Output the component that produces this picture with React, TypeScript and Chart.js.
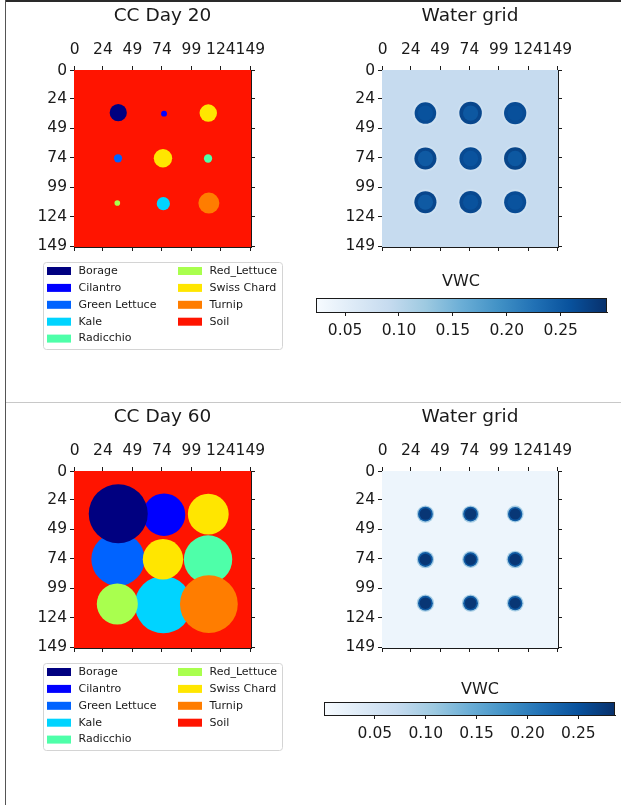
import { useEffect, useRef } from 'react';
import { Chart, registerables } from 'chart.js';

Chart.register(...registerables);

// ---------------- data ----------------
const cropNames = ['Borage', 'Cilantro', 'Green Lettuce', 'Kale', 'Radicchio', 'Red_Lettuce', 'Swiss Chard', 'Turnip', 'Soil'];
const cropColors = ['#000080', '#0000ff', '#0063ff', '#00d4ff', '#4effa9', '#a9ff4e', '#ffe600', '#ff7d00', '#ff1400'];
const axisTicks = [0, 24, 49, 74, 99, 124, 149];
const gridRange = [-0.5, 149.5];

// plants, in drawing order (later ones lie on top)
const plantCrop = ['Green Lettuce', 'Cilantro', 'Kale', 'Radicchio', 'Red_Lettuce', 'Swiss Chard', 'Swiss Chard', 'Borage', 'Turnip'];
const plantX = [36.8, 75.8, 75.2, 113.1, 36.2, 74.9, 113.3, 37.0, 113.8];
const plantY = [74.3, 36.5, 112.8, 74.5, 112.2, 74.3, 36.0, 35.7, 112.3];
const canopyRadiusDay20 = [3.5, 2.5, 5.6, 3.5, 2.4, 7.8, 7.4, 7.3, 8.9];
const canopyRadiusDay60 = [22.6, 18.0, 24.2, 20.5, 17.4, 17.1, 17.3, 25.0, 24.5];

// irrigation spots
const waterX = [36.5, 75.0, 113.0, 36.5, 75.0, 113.0, 36.5, 75.0, 113.0];
const waterY = [36.0, 36.0, 36.0, 74.5, 74.5, 74.5, 111.5, 111.5, 111.5];

const soilVWCDay20 = 0.0905;
const haloRadiusDay20 = [11.2, 11.2, 11.2, 11.2, 11.2, 11.2, 11.2, 11.2, 11.2];
const haloVWCDay20 = [0.08, 0.08, 0.08, 0.08, 0.08, 0.08, 0.08, 0.08, 0.08];
const rimRadiusDay20 = [9.2, 9.6, 9.5, 9.4, 9.5, 9.5, 9.4, 9.5, 9.4];
const rimVWCDay20 = [0.266, 0.27, 0.265, 0.27, 0.266, 0.272, 0.27, 0.268, 0.265];
const coreRadiusDay20 = [6.5, 6.5, 6.5, 6.5, 6.5, 6.5, 6.5, 6.5, 6.5];
const coreVWCDay20 = [0.258, 0.252, 0.26, 0.25, 0.257, 0.252, 0.25, 0.258, 0.257];

const soilVWCDay60 = 0.014;
const haloRadiusDay60 = [7.4, 7.4, 7.2, 7.4, 7.2, 7.4, 7.4, 7.4, 7.2];
const haloVWCDay60 = [0.1, 0.1, 0.1, 0.1, 0.1, 0.1, 0.1, 0.1, 0.1];
const rimRadiusDay60 = [6.3, 6.3, 6.1, 6.3, 6.1, 6.3, 6.3, 6.3, 6.1];
const rimVWCDay60 = [0.24, 0.24, 0.24, 0.24, 0.24, 0.24, 0.24, 0.24, 0.24];
const coreRadiusDay60 = [4.9, 4.9, 4.7, 4.9, 4.7, 4.9, 4.9, 4.9, 4.7];
const coreVWCDay60 = [0.279, 0.278, 0.278, 0.279, 0.278, 0.279, 0.279, 0.278, 0.279];

const vwcRangeDay20 = [0.023, 0.293];
const vwcRangeDay60 = [0.0, 0.286];
const vwcTicks = [0.05, 0.1, 0.15, 0.2, 0.25];

const bluesStops = ['#f7fbff', '#deebf7', '#c6dbef', '#9ecae1', '#6baed6', '#4292c6', '#2171b5', '#08519c', '#08306b'];

// ---------------- helpers ----------------
const FONT = 'DejaVu Sans';
const INK = '#1a1a1a';
Chart.defaults.font.family = FONT;

function hexRgb(h: string) {
  const n = parseInt(h.slice(1), 16);
  return [(n >> 16) & 255, (n >> 8) & 255, n & 255];
}
function bluesColor(t: number) {
  const c = Math.max(0, Math.min(1, t)) * (bluesStops.length - 1);
  const i = Math.min(Math.floor(c), bluesStops.length - 2);
  const f = c - i;
  const a = hexRgb(bluesStops[i]);
  const b = hexRgb(bluesStops[i + 1]);
  const m = a.map((v, k) => Math.round(v + (b[k] - v) * f));
  return `rgb(${m[0]},${m[1]},${m[2]})`;
}
function vwcColor(v: number, range: number[]) {
  return bluesColor((v - range[0]) / (range[1] - range[0]));
}
function dataRadius(ctx: any) {
  const raw = ctx.raw;
  if (!raw) return 0;
  const s = ctx.chart.scales.x;
  return Math.abs(s.getPixelForValue(raw.r) - s.getPixelForValue(0));
}

type Box = { top: number; bottom: number; left: number; right: number };

function squareScales(b: Box) {
  const make = (pos: string, labels: boolean) => {
    const horiz = pos === 'top' || pos === 'bottom';
    return {
      type: 'linear',
      position: pos,
      min: gridRange[0],
      max: gridRange[1],
      reverse: !horiz,
      z: 1,
      afterBuildTicks: (s: any) => {
        s.ticks = axisTicks.map((v) => ({ value: v }));
      },
      ticks: {
        display: labels,
        autoSkip: false,
        maxRotation: 0,
        minRotation: 0,
        padding: horiz ? 7 : 3,
        color: INK,
        font: { family: FONT, size: 15.5 },
        callback: (v: any) => String(v),
      },
      grid: { display: true, drawOnChartArea: false, drawTicks: true, tickLength: 4, color: INK, lineWidth: 1 },
      border: { display: true, color: INK, width: 1 },
      afterFit: (s: any) => {
        if (pos === 'top') s.height = b.top;
        else if (pos === 'bottom') s.height = b.bottom;
        else if (pos === 'left') s.width = b.left;
        else s.width = b.right;
      },
    };
  };
  return { x: make('top', true), x2: make('bottom', false), y: make('left', true), y2: make('right', false) };
}

function baseOptions(b: Box) {
  return {
    animation: false,
    responsive: false,
    events: [],
    layout: { padding: 0 },
    plugins: { legend: { display: false }, tooltip: { enabled: false }, title: { display: false } },
    scales: squareScales(b),
  };
}

function circleDataset(xs: number[], ys: number[], rs: number[], color: (i: number) => string) {
  return {
    data: xs.map((x, i) => ({ x, y: ys[i], r: rs[i], i })),
    xAxisID: 'x',
    yAxisID: 'y',
    backgroundColor: (ctx: any) => (ctx.raw ? color(ctx.raw.i) : 'transparent'),
    pointBackgroundColor: (ctx: any) => (ctx.raw ? color(ctx.raw.i) : 'transparent'),
    pointRadius: dataRadius,
    pointHoverRadius: dataRadius,
    pointBorderWidth: 0,
    pointHoverBorderWidth: 0,
    borderWidth: 0,
  };
}

function drawTitle(c: CanvasRenderingContext2D, text: string, x: number, y: number) {
  c.save();
  c.fillStyle = INK;
  c.font = `18.5px "${FONT}"`;
  c.textAlign = 'center';
  c.textBaseline = 'middle';
  c.fillText(text, x, y);
  c.restore();
}

function cropConfig(title: string, radii: number[]) {
  const b: Box = { top: 70, bottom: 153, left: 74, right: 59 };
  const cropColor = (i: number) => cropColors[cropNames.indexOf(plantCrop[i])];
  return {
    type: 'scatter',
    data: { datasets: [circleDataset(plantX, plantY, radii, cropColor)] },
    options: baseOptions(b),
    plugins: [
      {
        id: 'cropDecor',
        beforeDatasetsDraw(chart: any) {
          const { ctx: c, chartArea: a } = chart;
          c.save();
          c.fillStyle = cropColors[cropNames.indexOf('Soil')];
          c.fillRect(a.left, a.top, a.right - a.left, a.bottom - a.top);
          c.restore();
        },
        afterDraw(chart: any) {
          const { ctx: c, chartArea: a } = chart;
          drawTitle(c, title, (a.left + a.right) / 2, 16.5);
          // legend
          c.save();
          const lx = 43.5, ly = 262.5, lw = 239, lh = 87, rr = 3;
          c.beginPath();
          c.moveTo(lx + rr, ly);
          c.arcTo(lx + lw, ly, lx + lw, ly + lh, rr);
          c.arcTo(lx + lw, ly + lh, lx, ly + lh, rr);
          c.arcTo(lx, ly + lh, lx, ly, rr);
          c.arcTo(lx, ly, lx + lw, ly, rr);
          c.closePath();
          c.fillStyle = 'rgba(255,255,255,0.85)';
          c.fill();
          c.strokeStyle = '#d4d4d4';
          c.lineWidth = 1;
          c.stroke();
          c.font = `11px "${FONT}"`;
          c.textBaseline = 'middle';
          c.textAlign = 'left';
          cropNames.forEach((name, i) => {
            const col = i < 5 ? 0 : 1;
            const row = i < 5 ? i : i - 5;
            const y = 271 + row * 16.9;
            const px = col === 0 ? 47 : 178;
            c.fillStyle = cropColors[i];
            c.fillRect(px, y - 4, 24, 8);
            c.fillStyle = INK;
            c.fillText(name, px + 31.5, y);
          });
          c.restore();
        },
      },
    ],
  };
}

function waterConfig(
  soilVWC: number,
  range: number[],
  layers: { r: number[]; v: number[] }[]
) {
  const b: Box = { top: 70, bottom: 153, left: 72, right: 63 };
  // first dataset is drawn on top in Chart.js, so put the innermost layer first
  const datasets = layers
    .slice()
    .reverse()
    .map((l) => circleDataset(waterX, waterY, l.r, (i) => vwcColor(l.v[i], range)));
  return {
    type: 'scatter',
    data: { datasets },
    options: baseOptions(b),
    plugins: [
      {
        id: 'waterDecor',
        beforeDatasetsDraw(chart: any) {
          const { ctx: c, chartArea: a } = chart;
          c.save();
          c.fillStyle = vwcColor(soilVWC, range);
          c.fillRect(a.left, a.top, a.right - a.left, a.bottom - a.top);
          c.restore();
        },
        afterDraw(chart: any) {
          const { ctx: c, chartArea: a } = chart;
          drawTitle(c, 'Water grid', (a.left + a.right) / 2, 16.5);
        },
      },
    ],
  };
}

function colorbarConfig(range: number[], pad: { left: number; right: number; top: number }, axisH: number, labelX: number, labelY: number) {
  return {
    type: 'scatter',
    data: { datasets: [] },
    options: {
      animation: false,
      responsive: false,
      events: [],
      layout: { padding: { left: pad.left, right: pad.right, top: pad.top, bottom: 0 } },
      plugins: { legend: { display: false }, tooltip: { enabled: false }, title: { display: false } },
      scales: {
        x: {
          type: 'linear',
          position: 'bottom',
          min: range[0],
          max: range[1],
          z: 1,
          afterBuildTicks: (s: any) => {
            s.ticks = vwcTicks.map((v) => ({ value: v }));
          },
          ticks: {
            autoSkip: false,
            maxRotation: 0,
            padding: 5.5,
            color: INK,
            font: { family: FONT, size: 15.5 },
            callback: (v: any) => Number(v).toFixed(2),
          },
          grid: { display: true, drawOnChartArea: false, drawTicks: true, tickLength: 4, color: INK, lineWidth: 1 },
          border: { display: true, color: INK, width: 1 },
          afterFit: (s: any) => {
            s.height = axisH;
          },
        },
        y: { display: false, min: 0, max: 1 },
      },
    },
    plugins: [
      {
        id: 'cbar',
        beforeDatasetsDraw(chart: any) {
          const { ctx: c, chartArea: a } = chart;
          c.save();
          const g = c.createLinearGradient(a.left, 0, a.right, 0);
          bluesStops.forEach((col, i) => g.addColorStop(i / (bluesStops.length - 1), col));
          c.fillStyle = g;
          c.fillRect(a.left, a.top, a.right - a.left, a.bottom - a.top);
          c.strokeStyle = INK;
          c.lineWidth = 1;
          c.strokeRect(Math.round(a.left) + 0.5, Math.round(a.top) + 0.5, Math.round(a.right - a.left) - 1, Math.round(a.bottom - a.top));
          c.restore();
        },
        afterDraw(chart: any) {
          const c = chart.ctx;
          c.save();
          c.fillStyle = INK;
          c.font = `16px "${FONT}"`;
          c.textAlign = 'center';
          c.textBaseline = 'middle';
          c.fillText('VWC', labelX, labelY);
          c.restore();
        },
      },
    ],
  };
}

function ChartBox({ x, y, w, h, make }: { x: number; y: number; w: number; h: number; make: () => any }) {
  const ref = useRef<HTMLCanvasElement>(null);
  useEffect(() => {
    const chart = new Chart(ref.current as HTMLCanvasElement, make());
    return () => chart.destroy();
  }, []);
  return <canvas ref={ref} width={w} height={h} style={{ position: 'absolute', left: x, top: y, width: w, height: h }} />;
}

export default function App() {
  const ROW2 = 401;
  return (
    <div style={{ position: 'absolute', left: 0, top: 0, width: 621, height: 805, background: '#fff', overflow: 'hidden' }}>
      <div style={{ position: 'absolute', left: 5, top: 0, width: 616, height: 2, background: '#2a2a2a' }} />
      <div style={{ position: 'absolute', left: 5, top: 0, width: 1, height: 805, background: '#555' }} />
      <div style={{ position: 'absolute', left: 6, top: 402, width: 615, height: 1, background: '#c8c8c8' }} />

      <ChartBox x={0} y={0} w={310} h={400} make={() => cropConfig('CC Day 20', canopyRadiusDay20)} />
      <ChartBox
        x={310}
        y={0}
        w={311}
        h={400}
        make={() =>
          waterConfig(soilVWCDay20, vwcRangeDay20, [
            { r: haloRadiusDay20, v: haloVWCDay20 },
            { r: rimRadiusDay20, v: rimVWCDay20 },
            { r: coreRadiusDay20, v: coreVWCDay20 },
          ])
        }
      />
      <ChartBox x={300} y={260} w={321} h={90} make={() => colorbarConfig(vwcRangeDay20, { left: 16, right: 14, top: 38 }, 38, 161, 22)} />

      <ChartBox x={0} y={ROW2} w={310} h={400} make={() => cropConfig('CC Day 60', canopyRadiusDay60)} />
      <ChartBox
        x={310}
        y={ROW2}
        w={311}
        h={400}
        make={() =>
          waterConfig(soilVWCDay60, vwcRangeDay60, [
            { r: haloRadiusDay60, v: haloVWCDay60 },
            { r: rimRadiusDay60, v: rimVWCDay60 },
            { r: coreRadiusDay60, v: coreVWCDay60 },
          ])
        }
      />
      <ChartBox x={300} y={660} w={321} h={100} make={() => colorbarConfig(vwcRangeDay60, { left: 24, right: 6, top: 42 }, 45, 180, 30)} />
    </div>
  );
}
